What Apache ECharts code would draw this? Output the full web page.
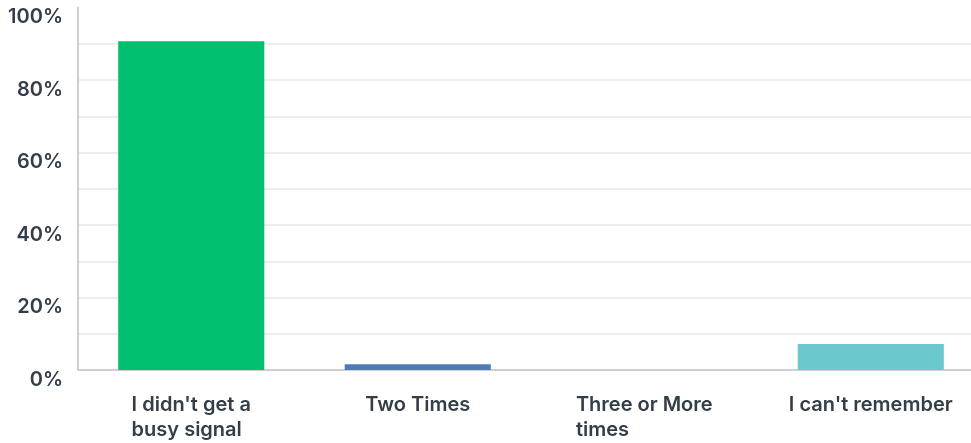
<!DOCTYPE html>
<html><head><meta charset="utf-8">
<script src="https://cdn.jsdelivr.net/npm/echarts@6/dist/echarts.min.js"></script>
<style>html,body{margin:0;padding:0;background:#fff;overflow:hidden}#c{width:984px;height:443px}</style>
</head><body><div id="c"></div>
<script>
var categories = ["I didn't get a\nbusy signal", "Two Times", "Three or More\ntimes", "I can't remember"];
var values = [90.7, 1.6, 0, 7.2];
var barColors = ['#00bf6f', '#507cb6', '#a7aaad', '#6bc8cd'];
var yTicks = [0, 20, 40, 60, 80, 100];

var chart = echarts.init(document.getElementById('c'));
var font = 'Inter';
var fw = 600;
var fs = 20;
var gridColors = [];
for (var i = 0; i <= 10; i++) gridColors.push(i === 10 ? 'rgba(0,0,0,0)' : '#ededed');
chart.setOption({
  animation: false,
  grid: {left: 78, top: 7.5, right: 0, bottom: 73, containLabel: false},
  xAxis: {
    type: 'category', data: categories,
    axisLine: {lineStyle: {color: '#cfcfcf', width: 2}},
    axisTick: {show: false},
    axisLabel: {
      interval: 0, margin: 22, color: '#333e48', fontFamily: font, fontSize: fs, fontWeight: fw,
      lineHeight: 25,
      formatter: function (v) { return v.split('\n').map(function (s) { return '{l|' + s + '}'; }).join('\n'); },
      rich: {l: {align: 'left', color: '#333e48', fontFamily: font, fontSize: fs, fontWeight: fw, lineHeight: 25}}
    }
  },
  yAxis: {
    type: 'value', min: 0, max: 100, interval: 10,
    axisLine: {show: true, lineStyle: {color: '#cfcfcf', width: 2}},
    axisTick: {show: false},
    splitLine: {lineStyle: {color: gridColors, width: 2}},
    axisLabel: {
      margin: 15, color: '#333e48', fontFamily: font, fontSize: fs, fontWeight: fw,
      verticalAlign: 'top', lineHeight: 19,
      formatter: function (v) { return yTicks.indexOf(v) >= 0 ? v + '%' : ''; }
    }
  },
  series: [{
    type: 'bar', barWidth: '64.5%',
    data: values.map(function (v, i) { return {value: v, itemStyle: {color: barColors[i]}}; })
  }]
});
</script></body></html>
